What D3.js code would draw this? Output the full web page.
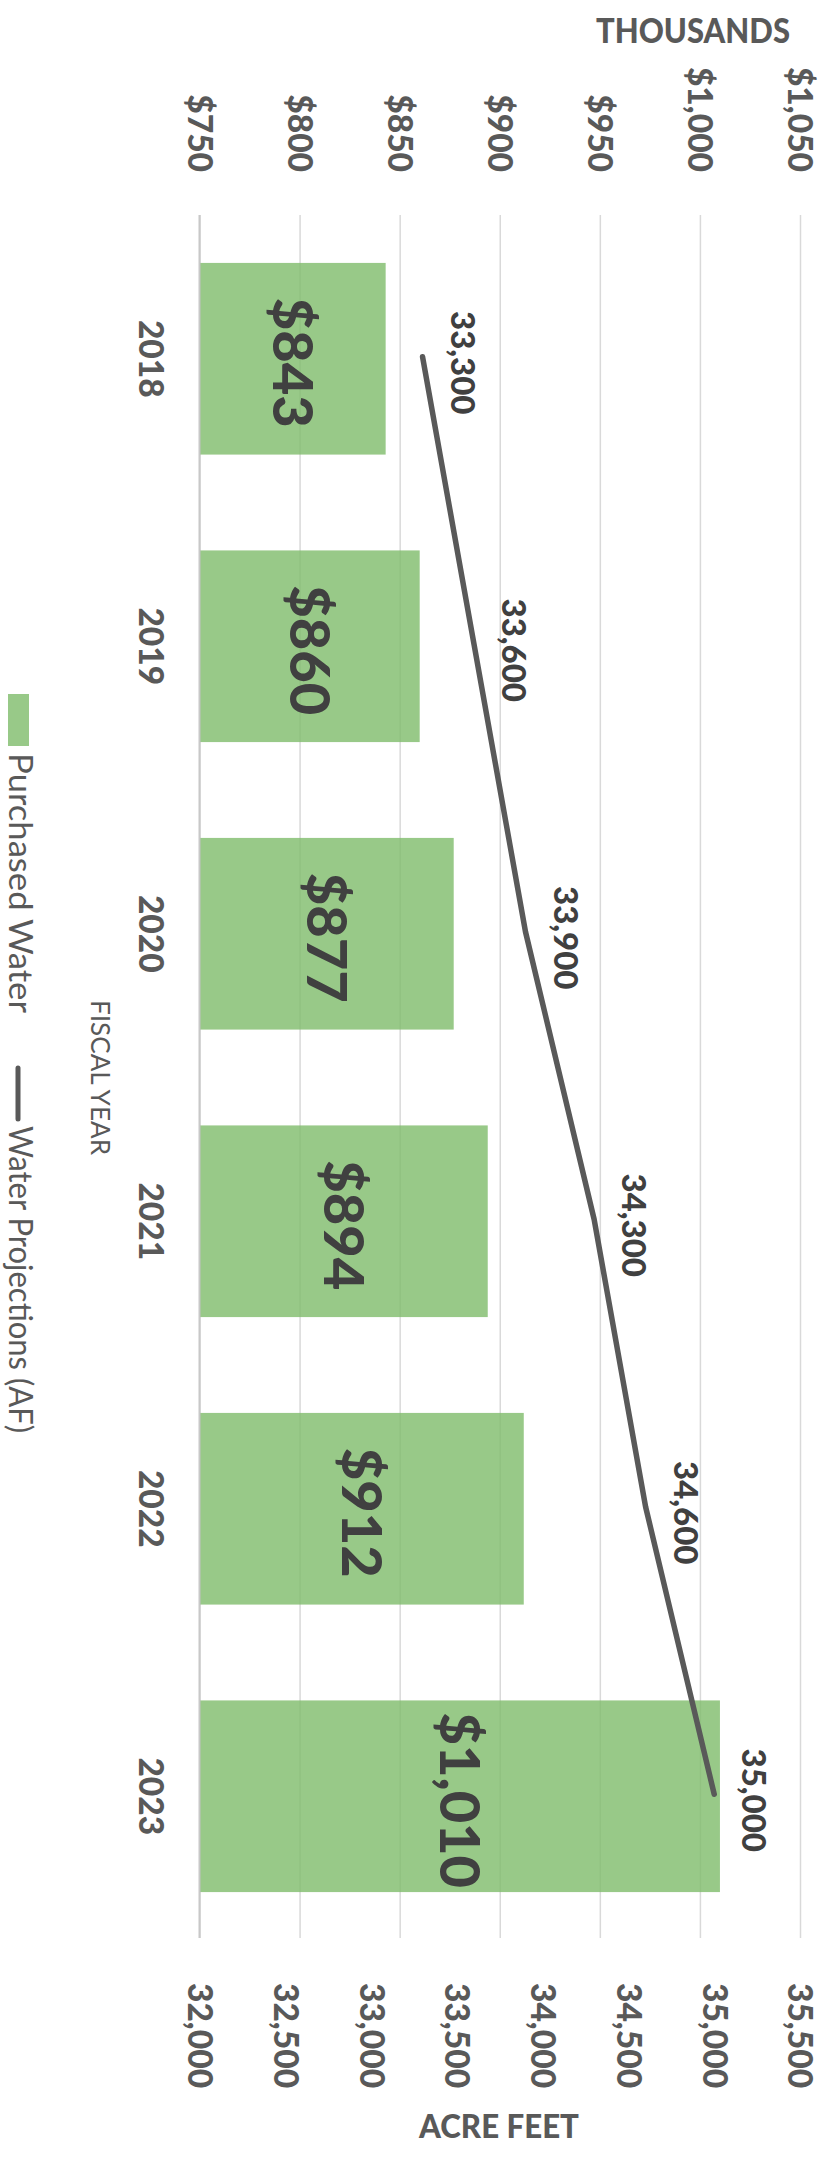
<!DOCTYPE html>
<html>
<head>
<meta charset="utf-8">
<script src="https://cdn.jsdelivr.net/npm/d3@7"></script>
<style>
  html, body { margin: 0; padding: 0; background: #fff; }
  svg { display: block; }
  text { font-family: Lato, "Open Sans", "Liberation Sans", sans-serif; }
</style>
</head>
<body>
<svg id="chart" width="825" height="2165"></svg>
<script>
// ---------- data ----------
const years = ["2018", "2019", "2020", "2021", "2022", "2023"];
const purchasedWater = [843, 860, 877, 894, 912, 1010];          // $ thousands
const waterProjections = [33300, 33600, 33900, 34300, 34600, 35000]; // acre feet
const costTicks = [750, 800, 850, 900, 950, 1000, 1050];
const acreTicks = [32000, 32500, 33000, 33500, 34000, 34500, 35000, 35500];
const legendLabels = ["Purchased Water", "Water Projections (AF)"];

// ---------- layout ----------
const svg = d3.select("#chart");
const plot = { left: 199.5, right: 800, top: 215, bottom: 1940 };
const CAP = 0.7165; // Lato cap-height ratio

const xCost = d3.scaleLinear().domain([750, 1050]).range([plot.left, plot.right]);
const xAcre = d3.scaleLinear().domain([32000, 35500]).range([plot.left, plot.right]);
const yBand = d3.scaleBand().domain(years).range([plot.top, plot.bottom])
  .paddingInner(1/3).paddingOuter(1/6);

const fmtCost = d3.format("$,");
const fmtAcre = d3.format(",");

const axisColor = "#595959";
const labelColor = "#404040";
const BOLD = 900;

// rotated text helper: cx = desired centre of caps (horizontal)
function rot(sel, cx, y, size) {
  sel.attr("transform", `translate(${cx - size * CAP / 2},${y}) rotate(90)`);
}

// ---------- top axis (cost) with gridlines ----------
const topAxis = svg.append("g")
  .attr("transform", `translate(0,${plot.top})`)
  .call(d3.axisBottom(xCost).tickValues(costTicks).tickSize(plot.bottom - plot.top - 2).tickFormat(fmtCost));
topAxis.select(".domain").remove();
topAxis.selectAll(".tick line").attr("stroke", "#d9d9d9").attr("stroke-width", 1.5);
topAxis.selectAll(".tick text")
  .attr("x", null).attr("y", null).attr("dy", null)
  .attr("fill", axisColor).attr("font-size", 33.5).attr("font-weight", BOLD)
  .attr("text-anchor", "end")
  .each(function() { rot(d3.select(this), 0, 172 - plot.top, 33.5); });

// ---------- bars ----------
svg.append("g").selectAll("rect")
  .data(years.map((y, i) => ({ year: y, v: purchasedWater[i] })))
  .join("rect")
  .attr("x", plot.left)
  .attr("y", d => yBand(d.year))
  .attr("width", d => xCost(d.v) - plot.left)
  .attr("height", yBand.bandwidth())
  .attr("fill", "#7ebc6a")
  .attr("fill-opacity", 0.8);

// ---------- category axis ----------
const catAxis = svg.append("g")
  .attr("transform", `translate(${plot.left},0)`)
  .call(d3.axisLeft(yBand).tickSize(0).tickSizeOuter(0));
catAxis.select(".domain").attr("stroke", "#c8c8c8").attr("stroke-width", 2)
  .attr("d", `M0,${plot.top}V${plot.bottom - 2}`);
catAxis.selectAll(".tick text")
  .attr("x", null).attr("y", null).attr("dy", null)
  .attr("fill", axisColor).attr("font-size", 33.5).attr("font-weight", BOLD)
  .attr("text-anchor", "middle")
  .each(function() { rot(d3.select(this), 151 - plot.left, 0, 33.5); });

// ---------- bottom axis (acre feet) ----------
const botAxis = svg.append("g")
  .attr("transform", `translate(0,${plot.bottom})`)
  .call(d3.axisBottom(xAcre).tickValues(acreTicks).tickSize(0).tickFormat(fmtAcre));
botAxis.select(".domain").remove();
botAxis.selectAll(".tick line").remove();
botAxis.selectAll(".tick text")
  .attr("x", null).attr("y", null).attr("dy", null)
  .attr("fill", axisColor).attr("font-size", 33.5).attr("font-weight", BOLD)
  .attr("text-anchor", "start")
  .each(function() { rot(d3.select(this), 0, 1983 - plot.bottom, 33.5); });

// ---------- bar labels ----------
svg.append("g").selectAll("text")
  .data(years.map((y, i) => ({ year: y, v: purchasedWater[i] })))
  .join("text")
  .text(d => fmtCost(d.v))
  .attr("fill", labelColor).attr("font-size", 56).attr("font-weight", BOLD)
  .attr("text-anchor", "middle")
  .each(function(d) {
    rot(d3.select(this), (plot.left + xCost(d.v)) / 2, yBand(d.year) + yBand.bandwidth() / 2 + 4, 56);
  });

// ---------- line ----------
const pts = years.map((y, i) => ({ year: y, v: waterProjections[i] }));
const line = d3.line()
  .x(d => xAcre(d.v))
  .y(d => yBand(d.year) + yBand.bandwidth() / 2 - 2);
svg.append("path")
  .datum(pts)
  .attr("d", line)
  .attr("fill", "none")
  .attr("stroke", "#595959")
  .attr("stroke-width", 5.5)
  .attr("stroke-linecap", "round")
  .attr("stroke-linejoin", "round");

svg.append("g").selectAll("text")
  .data(pts)
  .join("text")
  .text(d => fmtAcre(d.v))
  .attr("fill", labelColor).attr("font-size", 33).attr("font-weight", BOLD)
  .attr("text-anchor", "middle")
  .each(function(d) {
    rot(d3.select(this), xAcre(d.v) + 40, yBand(d.year) + yBand.bandwidth() / 2 + 4, 33);
  });

// ---------- axis titles ----------
svg.append("text").text("THOUSANDS")
  .attr("x", 693).attr("y", 43)
  .attr("text-anchor", "middle")
  .attr("fill", axisColor).attr("font-size", 34).attr("font-weight", BOLD)
  .attr("textLength", 194).attr("lengthAdjust", "spacingAndGlyphs");

svg.append("text").text("ACRE FEET")
  .attr("x", 499).attr("y", 2138)
  .attr("text-anchor", "middle")
  .attr("fill", axisColor).attr("font-size", 32).attr("font-weight", BOLD)
  .attr("textLength", 160).attr("lengthAdjust", "spacingAndGlyphs");

const fy = svg.append("text").text("FISCAL YEAR")
  .attr("fill", axisColor).attr("font-size", 26.5).attr("font-weight", 400)
  .attr("text-anchor", "start")
  .attr("textLength", 155).attr("lengthAdjust", "spacingAndGlyphs");
rot(fy, 100.5, 1000, 26.5);

// ---------- legend ----------
svg.append("rect")
  .attr("x", 8).attr("y", 694).attr("width", 21).attr("height", 52)
  .attr("fill", "#7ebc6a").attr("fill-opacity", 0.8);
const l1 = svg.append("text").text(legendLabels[0])
  .attr("fill", axisColor).attr("font-size", 32).attr("font-weight", 400)
  .attr("text-anchor", "start")
  .attr("textLength", 260).attr("lengthAdjust", "spacingAndGlyphs");
rot(l1, 20, 753, 32);

svg.append("line")
  .attr("x1", 18).attr("x2", 18).attr("y1", 1068).attr("y2", 1119)
  .attr("stroke", "#595959").attr("stroke-width", 5).attr("stroke-linecap", "round");
const l2 = svg.append("text").text(legendLabels[1])
  .attr("fill", axisColor).attr("font-size", 32).attr("font-weight", 400)
  .attr("text-anchor", "start")
  .attr("textLength", 307).attr("lengthAdjust", "spacingAndGlyphs");
rot(l2, 20, 1126, 32);
</script>
</body>
</html>
